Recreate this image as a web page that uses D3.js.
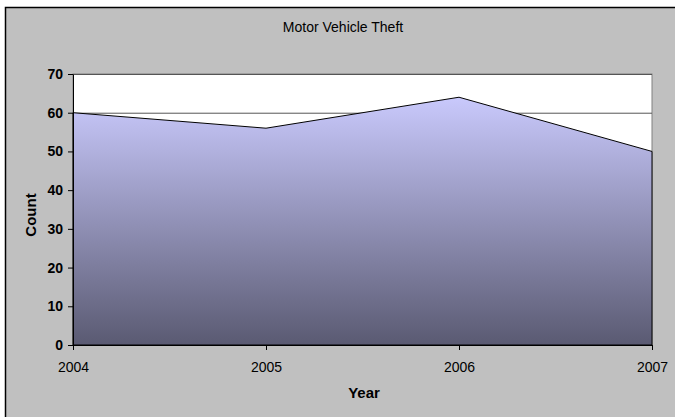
<!DOCTYPE html>
<html>
<head>
<meta charset="utf-8">
<script src="https://cdn.jsdelivr.net/npm/d3@7"></script>
<style>
  body { margin: 0; background: white; overflow: hidden; }
  svg { display: block; font-family: "Liberation Sans", Arial, sans-serif; }
</style>
</head>
<body>
<svg width="675" height="417"></svg>
<script>
var years = ["2004", "2005", "2006", "2007"]
var counts = [60, 56, 64, 50]
var yTicks = [0, 10, 20, 30, 40, 50, 60, 70]

var data = years.map((y, i) => ({ year: y, count: counts[i] }))

var
  svg = d3.select("svg"),
  plot = { left: 73, right: 652, top: 74, bottom: 345 }

var
  x = d3.scalePoint().domain(years).range([plot.left, plot.right]),
  y = d3.scaleLinear().domain([0, 70]).range([plot.bottom, plot.top])

// gradient for the area
var grad = svg.append("defs").append("linearGradient")
  .attr("id", "fill")
  .attr("gradientUnits", "userSpaceOnUse")
  .attr("x1", 0).attr("x2", 0)
  .attr("y1", y(d3.max(counts))).attr("y2", y(0))
grad.append("stop").attr("offset", 0).attr("stop-color", "#c9c9fc")
grad.append("stop").attr("offset", 1).attr("stop-color", "#5a5a72")

// chart area (runs off the right and bottom edges)
svg.append("rect")
  .attr("x", 5.5).attr("y", 7.5)
  .attr("width", 720).attr("height", 440)
  .attr("fill", "#c0c0c0")
  .attr("stroke", "#000")
  .attr("stroke-width", 1.5)

// plot area
svg.append("rect")
  .attr("x", plot.left).attr("y", plot.top)
  .attr("width", plot.right - plot.left)
  .attr("height", plot.bottom - plot.top)
  .attr("fill", "white")
  .attr("stroke", "#808080")

svg.append("g")
  .selectAll("line")
  .data(yTicks.slice(1))
  .join("line")
  .attr("x1", plot.left).attr("x2", plot.right)
  .attr("y1", d => y(d) + 0.5).attr("y2", d => y(d) + 0.5)
  .attr("stroke", "#555")

var area = d3.area()
  .x(d => x(d.year))
  .y0(y(0))
  .y1(d => y(d.count))

svg.append("path")
  .attr("d", area(data))
  .attr("fill", "url(#fill)")
  .attr("stroke", "#000")
  .attr("stroke-width", 1)

// axes
var yAxis = svg.append("g")
  .attr("transform", `translate(${plot.left},0)`)
  .call(d3.axisLeft(y).tickValues(yTicks).tickSize(5).tickSizeOuter(0).tickPadding(5))
yAxis.selectAll("text")
  .style("font-size", "14px")
  .style("font-weight", "bold")
  .attr("fill", "#000")

var xAxis = svg.append("g")
  .attr("transform", `translate(0,${plot.bottom})`)
  .call(d3.axisBottom(x).tickSize(5).tickSizeOuter(0).tickPadding(12))
xAxis.selectAll("text")
  .style("font-size", "14px")
  .attr("fill", "#000")

svg.selectAll(".domain, .tick line").attr("stroke", "#000")

// titles
svg.append("text")
  .attr("x", 343).attr("y", 32)
  .attr("text-anchor", "middle")
  .style("font-size", "14px")
  .text("Motor Vehicle Theft")

svg.append("text")
  .attr("x", 364).attr("y", 398)
  .attr("text-anchor", "middle")
  .style("font-size", "15px")
  .style("font-weight", "bold")
  .text("Year")

svg.append("text")
  .attr("transform", "translate(36,215) rotate(-90)")
  .attr("text-anchor", "middle")
  .style("font-size", "15px")
  .style("font-weight", "bold")
  .text("Count")
</script>
</body>
</html>
